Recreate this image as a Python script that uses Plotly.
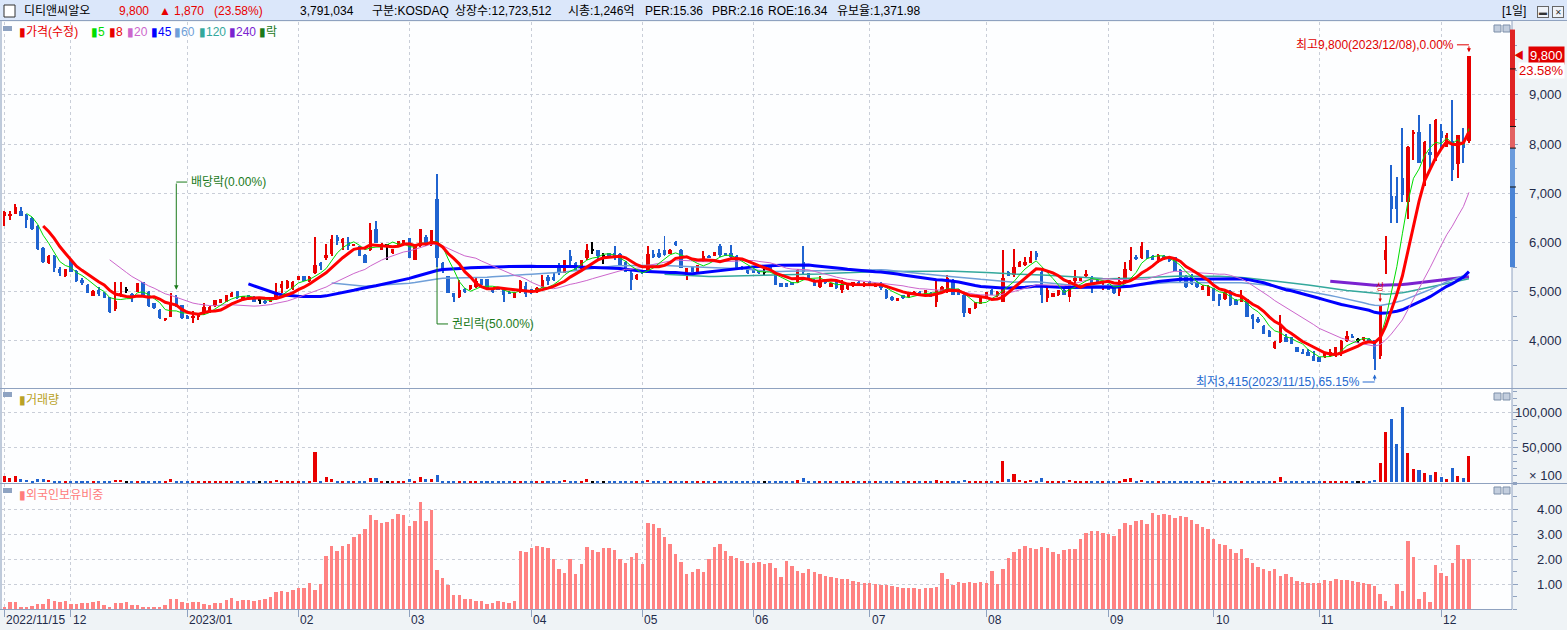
import pandas as pd
import plotly.graph_objects as go

W, H = 1567, 630

# trading calendar (KRX holidays removed from business days)
KRX_HOLIDAYS = ["2022-12-30", "2023-01-23", "2023-01-24", "2023-03-01", "2023-05-01",
                "2023-05-05", "2023-05-29", "2023-06-06", "2023-08-15", "2023-09-28",
                "2023-09-29", "2023-10-02", "2023-10-03", "2023-10-09"]
dates = pd.bdate_range("2022-11-15", "2023-12-08", freq="C", holidays=KRX_HOLIDAYS)
x = dates.strftime("%Y-%m-%d").tolist()

opens = [
    6540, 6550, 6590, 6640, 6560, 6490, 6340, 5880, 5580, 5730,
    5460, 5310, 5650, 5430, 5230, 5140, 4920, 5040, 4980, 4890,
    4640, 4950, 5030, 4950, 5000, 5190, 5000, 4770, 4630, 4430,
    4490, 4900, 4730, 4510, 4470, 4490, 4560, 4630, 4710, 4780,
    4800, 4900, 5010, 4870, 4930, 4900, 4830, 4820, 4800, 4870,
    5070, 5070, 5050, 5240, 5320, 5210, 5390, 5580, 5680, 5760,
    6110, 6000, 6020, 5940, 5920, 5750, 5850, 6270, 5850, 5950,
    5780, 5950, 6000, 6090, 5650, 5920, 6110, 5950, 6880, 5590,
    5320, 4970, 4900, 5050, 5050, 5090, 5250, 5250, 5040, 5070,
    5070, 5000, 4880, 5000, 5120, 5050, 5000, 5100, 5290, 5290,
    5510, 5390, 5730, 5590, 5480, 5680, 5850, 5840, 5730, 5780,
    5780, 5770, 5610, 5380, 5250, 5430, 5390, 5770, 5780, 5850,
    5770, 6020, 5850, 5340, 5510, 5410, 5650, 5730, 5730, 5920,
    5780, 5780, 5730, 5510, 5460, 5460, 5440, 5410, 5510, 5410,
    5170, 5170, 5190, 5190, 5600, 5380, 5240, 5100, 5240, 5100,
    5210, 5040, 5050, 5120, 5200, 5110, 5200, 5100, 5180, 5040,
    4900, 4820, 4930, 4890, 4950, 5000, 4970, 4980, 4800, 5000,
    5000, 5240, 5040, 4940, 4560, 4660, 4760, 4870, 5040, 4910,
    4800, 5410, 5340, 5510, 5540, 5590, 5780, 5410, 4870, 4900,
    4930, 5040, 4900, 5220, 5220, 5310, 5270, 5240, 5090, 5140,
    5090, 5000, 5210, 5440, 5710, 5680, 5840, 5730, 5620, 5730,
    5660, 5700, 5450, 5330, 5320, 5200, 5040, 4920, 5070, 4950,
    4850, 5020, 4840, 4800, 4850, 4520, 4450, 4310, 4210, 3850,
    3970, 4080, 4080, 3870, 3780, 3780, 3690, 3670, 3670, 3690,
    3700, 3800, 3990, 4110, 4010, 4010, 4040, 4010, 3700, 5640,
    6950, 6950, 7310, 6830, 8200, 8250, 7150, 7850, 7680, 8260,
    7950, 8070, 7600, 8050, 8070,
]
highs = [
    6650, 6640, 6780, 6730, 6590, 6510, 6350, 5900, 5740, 5740,
    5510, 5460, 5660, 5440, 5270, 5150, 5030, 5100, 4990, 4900,
    5190, 5190, 5100, 4970, 5180, 5200, 5010, 4780, 4640, 4470,
    4970, 4930, 4740, 4520, 4600, 4550, 4770, 4710, 4840, 4860,
    4940, 4990, 5020, 4920, 4940, 4910, 4900, 4830, 4850, 5170,
    5210, 5230, 5210, 5310, 5330, 5310, 6110, 5610, 5980, 6150,
    6150, 6090, 6120, 5980, 5930, 5760, 6390, 6430, 5990, 5980,
    5870, 6040, 6060, 6100, 5920, 6270, 6150, 6260, 7390, 5600,
    5330, 4980, 5240, 5070, 5140, 5270, 5260, 5260, 5070, 5080,
    5080, 5010, 4990, 5240, 5200, 5060, 5100, 5340, 5340, 5380,
    5580, 5650, 5850, 5600, 5650, 5980, 6020, 5850, 5780, 5790,
    5920, 5780, 5620, 5440, 5370, 5440, 5920, 5850, 5860, 6130,
    5860, 6040, 5860, 5480, 5520, 5550, 5820, 5740, 5800, 5980,
    5790, 5950, 5740, 5520, 5470, 5470, 5450, 5470, 5520, 5420,
    5180, 5180, 5200, 5470, 5920, 5390, 5250, 5330, 5250, 5180,
    5220, 5240, 5150, 5200, 5210, 5190, 5210, 5170, 5190, 5050,
    4910, 4880, 4940, 4980, 5010, 5010, 5040, 5000, 5210, 5110,
    5340, 5250, 5050, 4950, 4670, 4800, 4900, 5000, 5050, 5010,
    5850, 5420, 5860, 5620, 5710, 5820, 5820, 5440, 5070, 4980,
    5040, 5050, 5240, 5440, 5300, 5440, 5320, 5250, 5170, 5150,
    5100, 5290, 5610, 5900, 5740, 6020, 5850, 5740, 5760, 5750,
    5680, 5710, 5460, 5340, 5370, 5210, 5140, 5140, 5080, 4960,
    5010, 5030, 4850, 5030, 4860, 4550, 4480, 4320, 4220, 3990,
    4530, 4140, 4090, 3880, 3840, 3830, 3800, 3680, 3780, 3840,
    3880, 4010, 4210, 4150, 4060, 4080, 4050, 4020, 4720, 6130,
    7580, 7340, 8320, 7960, 8290, 8590, 8060, 8410, 8510, 8420,
    8220, 8900, 8190, 8320, 9800,
]
lows = [
    6340, 6460, 6580, 6530, 6290, 6250, 5850, 5590, 5570, 5410,
    5310, 5300, 5400, 5200, 5140, 4970, 4910, 4920, 4870, 4570,
    4610, 4900, 4970, 4800, 4990, 4890, 4700, 4650, 4450, 4410,
    4480, 4690, 4450, 4440, 4360, 4430, 4530, 4560, 4700, 4770,
    4790, 4890, 4860, 4860, 4860, 4790, 4760, 4760, 4790, 4830,
    4970, 5060, 5040, 5230, 5210, 5200, 5370, 5440, 5650, 5730,
    5950, 5850, 5850, 5930, 5730, 5580, 5820, 5990, 5840, 5650,
    5770, 5940, 5990, 5680, 5640, 5910, 5920, 5940, 5510, 5390,
    4970, 4800, 4870, 4970, 5040, 5070, 5130, 5070, 4970, 5030,
    4800, 4950, 4870, 4970, 4900, 4960, 4970, 5070, 5140, 5210,
    5340, 5380, 5540, 5440, 5470, 5650, 5770, 5650, 5560, 5690,
    5650, 5540, 5400, 5040, 5240, 5370, 5380, 5680, 5680, 5720,
    5760, 5920, 5480, 5240, 5400, 5400, 5610, 5690, 5720, 5710,
    5720, 5680, 5440, 5450, 5370, 5380, 5370, 5340, 5440, 5140,
    5100, 5100, 5130, 5170, 5370, 5230, 5110, 5080, 5160, 5090,
    5060, 4970, 5040, 5100, 5120, 5100, 5110, 5090, 5040, 4860,
    4820, 4810, 4860, 4880, 4940, 4930, 4960, 4890, 4700, 4990,
    4970, 4930, 4930, 4480, 4550, 4650, 4750, 4860, 4930, 4900,
    4790, 5310, 5300, 5500, 5530, 5580, 5650, 4780, 4800, 4890,
    4920, 4930, 4800, 5170, 5210, 5300, 4980, 5160, 5040, 5030,
    4960, 4910, 5200, 5430, 5650, 5660, 5670, 5640, 5580, 5650,
    5600, 5420, 5200, 5080, 5140, 5080, 5030, 4910, 4810, 4710,
    4840, 4710, 4730, 4790, 4480, 4250, 4370, 4140, 4070, 3840,
    3960, 3970, 3940, 3770, 3730, 3700, 3600, 3580, 3660, 3680,
    3680, 3700, 3980, 4050, 3950, 4000, 3960, 3415, 3640, 5370,
    6400, 6400, 6830, 6470, 7680, 7610, 7140, 7510, 7650, 7880,
    7940, 7260, 7310, 7620, 8030,
]
closes = [
    6630, 6590, 6730, 6550, 6460, 6270, 5860, 5610, 5730, 5480,
    5390, 5460, 5410, 5210, 5190, 4980, 5020, 4950, 4880, 4580,
    4820, 4980, 5030, 4900, 5170, 4900, 4710, 4660, 4460, 4460,
    4770, 4700, 4460, 4450, 4510, 4550, 4700, 4680, 4830, 4850,
    4930, 4980, 4870, 4910, 4870, 4800, 4830, 4770, 4850, 5000,
    5160, 5220, 5200, 5310, 5220, 5300, 5540, 5540, 5750, 6070,
    6040, 6070, 5920, 5970, 5730, 5580, 6260, 6000, 5980, 5950,
    5860, 6040, 6050, 5680, 5920, 6270, 5980, 6250, 5690, 5440,
    4980, 4890, 5040, 5000, 5140, 5210, 5140, 5070, 5000, 5040,
    4930, 4950, 4980, 5210, 4950, 4970, 5070, 5240, 5210, 5230,
    5380, 5650, 5630, 5440, 5650, 5850, 5850, 5730, 5730, 5700,
    5710, 5540, 5410, 5240, 5340, 5380, 5760, 5700, 5700, 5750,
    5850, 5950, 5480, 5480, 5410, 5540, 5730, 5700, 5800, 5750,
    5730, 5710, 5440, 5460, 5380, 5390, 5380, 5410, 5440, 5140,
    5100, 5100, 5140, 5440, 5410, 5250, 5120, 5190, 5170, 5170,
    5070, 5140, 5140, 5190, 5130, 5180, 5120, 5160, 5080, 4870,
    4830, 4870, 4870, 4970, 5000, 4940, 5040, 4900, 5040, 5100,
    5270, 4940, 4940, 4560, 4660, 4800, 4900, 5000, 4940, 5000,
    5270, 5320, 5510, 5610, 5610, 5700, 5710, 4930, 5040, 4970,
    5040, 4930, 5240, 5270, 5290, 5370, 5170, 5170, 5140, 5040,
    4970, 5210, 5460, 5650, 5660, 5920, 5680, 5650, 5740, 5660,
    5630, 5430, 5210, 5100, 5160, 5090, 5120, 5120, 4820, 4840,
    4990, 4730, 4740, 4910, 4480, 4450, 4380, 4140, 4080, 3970,
    4280, 3980, 3940, 3770, 3740, 3700, 3600, 3580, 3770, 3770,
    3870, 4000, 4110, 4060, 4010, 4070, 3960, 3630, 4720, 5840,
    6680, 6680, 6970, 7950, 8250, 7620, 8050, 7780, 8490, 8120,
    8190, 7480, 8190, 7930, 9800,
]
# volume in units of 100 shares
volumes = [
    9300, 5900, 9300, 4900, 3400, 2000, 4900, 4900, 3400, 1500,
    500, 2000, 2000, 2000, 500, 2000, 500, 500, 500, 2000,
    3400, 3400, 500, 500, 2000, 500, 2000, 500, 500, 500,
    4900, 1000, 600, 500, 600, 500, 600, 500, 500, 600,
    500, 500, 600, 500, 500, 600, 500, 500, 600, 3400,
    2000, 2000, 1000, 2000, 500, 1000, 43000, 2000, 7800, 4900,
    2000, 500, 2000, 500, 600, 500, 6400, 6400, 2000, 500,
    500, 500, 500, 4900, 500, 7800, 4900, 4900, 10800, 600,
    700, 500, 600, 500, 500, 600, 500, 500, 500, 500,
    800, 500, 600, 1500, 1200, 600, 500, 1500, 900, 700,
    1200, 3500, 2200, 1000, 1800, 4200, 2000, 1200, 1000, 800,
    1500, 1000, 900, 1800, 700, 500, 3500, 1200, 800, 2000,
    900, 1500, 1800, 1000, 600, 800, 1400, 500, 700, 1600,
    600, 1200, 1400, 600, 500, 600, 500, 500, 600, 1500,
    700, 500, 500, 2600, 6500, 1500, 900, 900, 600, 600,
    800, 1000, 700, 600, 500, 600, 500, 600, 700, 1500,
    900, 500, 600, 700, 500, 600, 700, 800, 2800, 1200,
    2500, 1800, 900, 4000, 1500, 1200, 1000, 900, 800, 700,
    31000, 4500, 11500, 3500, 2500, 3800, 2200, 5500, 2500, 1200,
    1000, 900, 3000, 2000, 1200, 1800, 1500, 800, 700, 900,
    800, 2500, 4500, 6000, 1500, 4000, 1800, 1000, 1200, 800,
    600, 1500, 1500, 2000, 1200, 900, 800, 1000, 3000, 1500,
    1000, 1800, 1200, 1500, 2000, 1500, 800, 1200, 900, 1000,
    7700, 1500, 900, 1000, 600, 600, 800, 700, 900, 600,
    1000, 1200, 800, 700, 500, 600, 800, 3400, 27900, 71200,
    89900, 55300, 107200, 42300, 19200, 17800, 13900, 10600, 14900, 7700,
    4800, 20700, 9600, 6300, 38000,
]
foreign = [
    0.09, 0.28, 0.28, 0.09, 0.09, 0.13, 0.20, 0.20, 0.40, 0.33,
    0.28, 0.33, 0.20, 0.20, 0.24, 0.24, 0.28, 0.32, 0.16, 0.09,
    0.24, 0.24, 0.28, 0.16, 0.16, 0.05, 0.05, 0.08, 0.05, 0.16,
    0.40, 0.40, 0.28, 0.24, 0.28, 0.28, 0.20, 0.16, 0.24, 0.24,
    0.36, 0.44, 0.32, 0.36, 0.36, 0.32, 0.36, 0.40, 0.48, 0.68,
    0.72, 0.68, 0.76, 0.84, 0.84, 1.04, 0.76, 1.00, 2.12, 2.52,
    2.32, 2.52, 2.60, 2.88, 3.00, 3.20, 3.76, 3.56, 3.44, 3.48,
    3.60, 3.80, 3.76, 3.32, 3.52, 4.28, 3.52, 3.96, 1.56, 1.24,
    0.96, 0.56, 0.56, 0.40, 0.40, 0.32, 0.32, 0.20, 0.24, 0.32,
    0.28, 0.24, 0.32, 2.32, 2.28, 2.44, 2.52, 2.48, 2.44, 2.00,
    1.60, 1.44, 2.00, 1.40, 1.80, 2.48, 2.36, 2.28, 2.44, 2.44,
    2.36, 2.00, 1.84, 2.08, 2.24, 1.80, 3.44, 3.40, 3.24, 2.88,
    2.60, 2.20, 1.88, 1.40, 1.48, 1.60, 1.48, 2.00, 2.48, 2.60,
    2.32, 2.12, 2.04, 1.92, 1.84, 1.84, 1.88, 1.80, 1.84, 1.64,
    1.28, 1.92, 1.72, 1.52, 1.44, 1.60, 1.48, 1.40, 1.32, 1.28,
    1.24, 1.20, 1.20, 1.12, 1.08, 1.04, 1.04, 1.00, 0.96, 0.96,
    0.92, 0.88, 0.84, 0.84, 0.84, 0.80, 0.84, 0.84, 0.88, 1.44,
    1.20, 0.96, 1.08, 1.04, 1.08, 1.04, 1.08, 1.04, 1.52, 1.00,
    1.60, 2.04, 2.28, 2.40, 2.52, 2.44, 2.40, 2.48, 2.44, 2.28,
    2.20, 2.36, 2.40, 2.40, 2.80, 3.04, 3.12, 3.12, 3.04, 3.00,
    2.92, 3.20, 3.44, 3.36, 3.52, 3.56, 3.40, 3.84, 3.77, 3.81,
    3.77, 3.64, 3.72, 3.67, 3.56, 3.40, 3.29, 3.21, 2.80, 2.61,
    2.56, 2.40, 2.25, 2.41, 2.05, 1.84, 1.68, 1.60, 1.53, 1.61,
    1.33, 1.41, 1.28, 1.13, 1.09, 1.05, 1.05, 1.05, 1.17, 1.13,
    1.21, 1.17, 1.17, 1.13, 1.09, 1.05, 1.01, 0.93, 0.61, 0.33,
    0.13, 1.01, 0.73, 2.73, 2.09, 0.41, 0.69, 0.29, 1.77, 1.45,
    1.33, 1.85, 2.57, 2.01, 2.01,
]
assert len(x) == len(opens) == len(highs) == len(lows) == len(closes) == len(volumes) == len(foreign)

MA_WINDOWS = [240, 120, 60, 45, 20, 5, 8]
MONTH_STARTS = ["2022-11-15", "2022-12-01", "2023-01-02", "2023-02-01", "2023-03-02",
                "2023-04-03", "2023-05-02", "2023-06-01", "2023-07-03", "2023-08-01",
                "2023-09-01", "2023-10-04", "2023-11-01", "2023-12-01"]
MONTH_LABELS = ["2022/11/15", "12", "2023/01", "02", "03", "04", "05", "06", "07",
                "08", "09", "10", "11", "12"]
PRICE_TICKS = [4000, 5000, 6000, 7000, 8000, 9000]
VOLUME_TICKS = [50000, 100000]
FOREIGN_TICKS = [1, 2, 3, 4]

DIVIDEND_DATE, RIGHTS_DATE = "2022-12-28", "2023-03-09"
HIGH_DATE, LOW_DATE, LIMIT_DATE = "2023-12-08", "2023-11-15", "2023-11-16"
LAST_PRICE, LAST_CHANGE = 9800, "23.58%"
# price strip drawn on the axis line: (low, high)
STRIP_BANDS = [(8360, 10330), (7920, 8360), (7130, 7920), (5500, 7130)]
STRIP_MARKS = [9530, 8360, 7920, 7130]

RED = "#e80000"
BLUE = "#1f63d0"
GRID = "#c9ced8"
FRAME = "#8fa2c0"
TXT = "#1f2b4a"
GREEN_NOTE = "#1b7a1b"
STRIP_COLORS = ["#e02424", "#e36262", "#6b9bdc", "#4a84d6"]
MA_STYLE = {
    5: ("#00dd00", 1), 8: ("#ff0000", 3), 20: ("#cc66cc", 1), 45: ("#0000ff", 3),
    60: ("#6f9fd8", 1.5), 120: ("#33a89c", 1.5), 240: ("#7a22d0", 3),
}
FONT = "Liberation Sans, Noto Sans CJK KR, sans-serif"

idx = {d: i for i, d in enumerate(x)}


def py(p):
    return 1 - p / H


def px(p):
    return p / W


colors = [RED if c > o else BLUE if c < o else "#000000" for o, c in zip(opens, closes)]
body_base = [min(o, c) if o != c else o - 10 for o, c in zip(opens, closes)]
body_len = [max(abs(c - o), 20) for o, c in zip(opens, closes)]
wick_len = [h - l for h, l in zip(highs, lows)]

fig = go.Figure()
fig.add_trace(go.Bar(x=x, y=wick_len, base=lows, width=0.18,
                     marker=dict(color=colors, line_width=0), xaxis="x", yaxis="y"))
fig.add_trace(go.Bar(x=x, y=body_len, base=body_base, width=0.6,
                     marker=dict(color=colors, line_width=0), xaxis="x", yaxis="y"))

close_s = pd.Series(closes)
for w in MA_WINDOWS:
    c, lw = MA_STYLE[w]
    fig.add_trace(go.Scatter(x=x, y=close_s.rolling(w).mean(), mode="lines",
                             line=dict(color=c, width=lw), xaxis="x", yaxis="y"))

fig.add_trace(go.Bar(x=x, y=volumes, width=0.55, marker=dict(color=colors, line_width=0),
                     xaxis="x2", yaxis="y2"))
fig.add_trace(go.Bar(x=x, y=foreign, width=0.62, marker=dict(color="#ff8282", line_width=0),
                     xaxis="x3", yaxis="y3"))

X_DOM = [px(2), px(1512)]
xcommon = dict(type="category", range=[-0.415, 271.76], domain=X_DOM, tickvals=MONTH_STARTS,
               showticklabels=False, showgrid=True, gridcolor=GRID, griddash="dot",
               zeroline=False, showline=False, ticks="")
ycommon = dict(side="right", showticklabels=False, showgrid=True, gridcolor=GRID,
               griddash="dot", zeroline=False, showline=False, ticks="outside",
               ticklen=5, tickcolor=FRAME)


def minor(step):
    return dict(tickmode="linear", tick0=0, dtick=step, ticks="outside", ticklen=4,
                tickcolor=FRAME, showgrid=False)


fig.update_layout(
    width=W, height=H, margin=dict(l=0, r=0, t=0, b=0),
    paper_bgcolor="#eff3f6", plot_bgcolor="#fdfeff",
    showlegend=False, hovermode=False, barmode="overlay", bargap=0,
    font=dict(family=FONT, size=12, color=TXT),
    xaxis=dict(**xcommon, anchor="y"),
    xaxis2=dict(**xcommon, anchor="y2", matches="x"),
    xaxis3={**xcommon, "anchor": "y3", "matches": "x", "ticks": "outside",
            "ticklen": 7, "tickcolor": FRAME},
    yaxis=dict(**ycommon, anchor="x", domain=[py(388), py(22)], range=[3043, 10484],
               tickvals=PRICE_TICKS, minor=minor(500)),
    yaxis2=dict(**ycommon, anchor="x2", domain=[py(483), py(389)], range=[-1000, 133300],
                tickvals=VOLUME_TICKS, minor=minor(10000)),
    yaxis3=dict(**ycommon, anchor="x3", domain=[py(609), py(484)], range=[0, 5.0],
                tickvals=FOREIGN_TICKS, minor=minor(0.5)),
)

shapes = []
ann = []

# header band
shapes.append(dict(type="rect", xref="paper", yref="paper", x0=0, x1=1, y0=py(20.5), y1=1,
                   fillcolor="#dbe7fa", line_width=0, layer="below"))
shapes.append(dict(type="rect", xref="paper", yref="paper", x0=px(4), x1=px(15),
                   y0=py(17), y1=py(5), fillcolor="white", line=dict(color="#333", width=1)))
for t, xp in (("▬", 1543), ("✕", 1558)):
    ann.append(dict(text=t, x=px(xp), y=py(11.5), xref="paper", yref="paper",
                    showarrow=False, xanchor="center", yanchor="middle", width=10, height=10,
                    bgcolor="#eef2f8", bordercolor="#666", borderwidth=1, borderpad=0,
                    font=dict(size=8, color="#333")))

header = [("디티앤씨알오", 22, "#000"), ("9,800", 117, RED), ("▲", 157, RED),
          ("1,870", 172, RED), ("(23.58%)", 212, RED), ("3,791,034", 298, "#000"),
          ("구분:KOSDAQ", 370, "#000"), ("상장수:12,723,512", 453, "#000"),
          ("시총:1,246억", 566, "#000"), ("PER:15.36", 643, "#000"),
          ("PBR:2.16", 710, "#000"), ("ROE:16.34", 766, "#000"),
          ("유보율:1,371.98", 835, "#000"), ("[1일]", 1500, "#000")]
for t, xp, c in header:
    ann.append(dict(text=t, x=px(xp), y=py(11), xref="paper", yref="paper", showarrow=False,
                    xanchor="left", yanchor="middle", font=dict(size=12, color=c)))

# panel frames
for yy in (20.5, 388.5, 483.5):
    shapes.append(dict(type="line", xref="paper", yref="paper", x0=0, x1=1, y0=py(yy),
                       y1=py(yy), line=dict(color=FRAME, width=1)))
shapes.append(dict(type="line", xref="paper", yref="paper", x0=0, x1=px(1512), y0=py(609.5),
                   y1=py(609.5), line=dict(color=FRAME, width=1)))
for xx in (1, 1512):
    shapes.append(dict(type="line", xref="paper", yref="paper", x0=px(xx), x1=px(xx),
                       y0=py(609.5), y1=py(20.5), line=dict(color=FRAME, width=1)))

# panel icons
for top in (26, 392, 488):
    shapes.append(dict(type="rect", xref="paper", yref="paper", x0=px(3), x1=px(12),
                       y0=py(top + 5), y1=py(top), fillcolor="#8ea3c2", line_width=0))
for top in (25, 393, 487):
    for x0 in (1494, 1503):
        shapes.append(dict(type="rect", xref="paper", yref="paper", x0=px(x0), x1=px(x0 + 7),
                           y0=py(top + 7), y1=py(top), fillcolor="#c3cede",
                           line=dict(color="#7d8fa9", width=1)))

# legends
legend = [("▮가격(수정)", 17, RED), ("▮5", 89, MA_STYLE[5][0]), ("▮8", 107, RED),
          ("▮20", 125, MA_STYLE[20][0]), ("▮45", 149, MA_STYLE[45][0]),
          ("▮60", 172, MA_STYLE[60][0]), ("▮120", 197, MA_STYLE[120][0]),
          ("▮240", 227, MA_STYLE[240][0]), ("▮락", 257, GREEN_NOTE)]
for t, xp, c in legend:
    ann.append(dict(text=t, x=px(xp), y=py(32), xref="paper", yref="paper", showarrow=False,
                    xanchor="left", yanchor="middle", font=dict(size=12, color=c)))
ann.append(dict(text="▮거래량", x=px(17), y=py(400), xref="paper", yref="paper",
                showarrow=False, xanchor="left", yanchor="middle",
                font=dict(size=12, color="#b9a226")))
ann.append(dict(text="▮외국인보유비중", x=px(17), y=py(495), xref="paper", yref="paper",
                showarrow=False, xanchor="left", yanchor="middle",
                font=dict(size=12, color="#ff7b7b")))

# right axis labels
axis_font = dict(size=13, color=TXT)
for v in PRICE_TICKS:
    ann.append(dict(text=f"{v:,}", x=px(1564), y=v, xref="paper", yref="y", showarrow=False,
                    xanchor="right", yanchor="middle", font=axis_font))
for v in VOLUME_TICKS:
    ann.append(dict(text=f"{v:,}", x=px(1564), y=v, xref="paper", yref="y2", showarrow=False,
                    xanchor="right", yanchor="middle", font=axis_font))
ann.append(dict(text="× 100", x=px(1564), y=10000, xref="paper", yref="y2", showarrow=False,
                xanchor="right", yanchor="middle", font=axis_font))
for v in FOREIGN_TICKS:
    ann.append(dict(text=f"{v:.2f}", x=px(1564), y=v, xref="paper", yref="y3", showarrow=False,
                    xanchor="right", yanchor="middle", font=axis_font))

# bottom date labels
for d, t in zip(MONTH_STARTS, MONTH_LABELS):
    ann.append(dict(text=t, x=idx[d], y=py(619.5), xref="x3", yref="paper", showarrow=False,
                    xanchor="left", yanchor="middle", font=dict(size=12, color=TXT)))

# price strip on the axis line
for (lo, hi), c in zip(STRIP_BANDS, STRIP_COLORS):
    shapes.append(dict(type="rect", xref="paper", yref="y", x0=px(1510), x1=px(1515),
                       y0=lo, y1=hi, fillcolor=c, line_width=0))
for v in STRIP_MARKS:
    shapes.append(dict(type="line", xref="paper", yref="y", x0=px(1510), x1=px(1516),
                       y0=v, y1=v, line=dict(color="#111", width=1)))

# last price box
ann.append(dict(text=f"{LAST_PRICE:,}", x=px(1565), y=LAST_PRICE, xref="paper", yref="y",
                showarrow=False, xanchor="right", yanchor="middle", bgcolor="#e00000",
                borderpad=1, font=dict(size=13, color="white")))
ann.append(dict(text=LAST_CHANGE, x=px(1565), y=LAST_PRICE, yshift=-15, xref="paper",
                yref="y", showarrow=False, xanchor="right", yanchor="middle",
                bgcolor="white", borderpad=0, font=dict(size=13, color="#e00000")))
ann.append(dict(text="◀", x=px(1519), y=LAST_PRICE, xref="paper", yref="y", showarrow=False,
                xanchor="center", yanchor="middle", font=dict(size=10, color="#e00000")))

# ex-dividend marker
i_div = idx[DIVIDEND_DATE]
ann.append(dict(text="", x=i_div, y=5040, ax=i_div, ay=7230, xref="x", yref="y",
                axref="x", ayref="y", showarrow=True, arrowhead=2, arrowsize=0.9,
                arrowwidth=1, arrowcolor=GREEN_NOTE))
shapes.append(dict(type="line", xref="x", yref="y", xsizemode="pixel", xanchor=i_div,
                   x0=0, x1=11, y0=7230, y1=7230, line=dict(color=GREEN_NOTE, width=1)))
ann.append(dict(text="배당락(0.00%)", x=i_div, y=7230, xref="x", yref="y", xshift=13,
                showarrow=False, xanchor="left", yanchor="middle",
                font=dict(size=12, color=GREEN_NOTE)))

# ex-rights marker
i_rt = idx[RIGHTS_DATE]
shapes.append(dict(type="line", xref="x", yref="y", x0=i_rt, x1=i_rt, y0=4345, y1=5510,
                   line=dict(color=GREEN_NOTE, width=1)))
shapes.append(dict(type="line", xref="x", yref="y", xsizemode="pixel", xanchor=i_rt,
                   x0=0, x1=11, y0=4345, y1=4345, line=dict(color=GREEN_NOTE, width=1)))
ann.append(dict(text="권리락(50.00%)", x=i_rt, y=4345, xref="x", yref="y", xshift=13,
                showarrow=False, xanchor="left", yanchor="middle",
                font=dict(size=12, color=GREEN_NOTE)))

# period high / low notes
i_hi = idx[HIGH_DATE]
ann.append(dict(text="최고9,800(2023/12/08),0.00%", x=i_hi, y=10020, xref="x", yref="y",
                xshift=-13, showarrow=False, xanchor="right", yanchor="middle",
                font=dict(size=12, color="#e00000")))
shapes.append(dict(type="line", xref="x", yref="y", xsizemode="pixel", xanchor=i_hi,
                   x0=-12, x1=0, y0=10020, y1=10020, line=dict(color="#e00000", width=1)))
ann.append(dict(text="", x=i_hi, y=9870, ax=i_hi, ay=10020, xref="x", yref="y",
                axref="x", ayref="y", showarrow=True, arrowhead=2, arrowsize=0.8,
                arrowwidth=1, arrowcolor="#e00000"))

i_lo = idx[LOW_DATE]
ann.append(dict(text="최저3,415(2023/11/15),65.15%", x=i_lo, y=3165, xref="x", yref="y",
                xshift=-13, showarrow=False, xanchor="right", yanchor="middle",
                font=dict(size=12, color="#2469cf")))
shapes.append(dict(type="line", xref="x", yref="y", xsizemode="pixel", xanchor=i_lo,
                   x0=-12, x1=0, y0=3165, y1=3165, line=dict(color="#2469cf", width=1)))
ann.append(dict(text="", x=i_lo, y=3320, ax=i_lo, ay=3165, xref="x", yref="y",
                axref="x", ayref="y", showarrow=True, arrowhead=2, arrowsize=0.8,
                arrowwidth=1, arrowcolor="#2469cf"))

# upper-limit marker
i_lim = idx[LIMIT_DATE]
ann.append(dict(text="상", x=i_lim, y=4790, xref="x", yref="y", ax=0, ay=-15,
                showarrow=True, arrowhead=2, arrowsize=0.7, arrowwidth=1,
                arrowcolor="#e00000", font=dict(size=9, color="#e00000")))

fig.update_layout(shapes=shapes, annotations=ann)
# drop the default page margin so the 1567x630 figure fills the window
fig.write_html("out.html", config={"displayModeBar": False},
               post_script="document.body.style.margin='0';document.body.style.overflow='hidden';")
